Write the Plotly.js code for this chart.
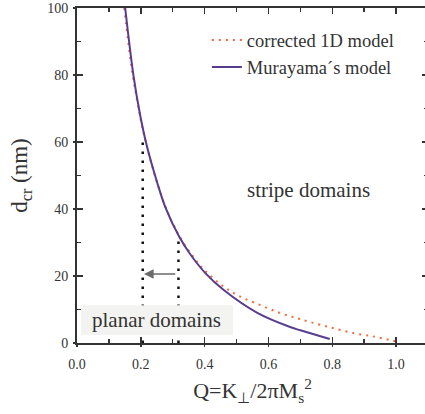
<!DOCTYPE html>
<html>
<head>
<meta charset="utf-8">
<script src="https://cdn.plot.ly/plotly-3.0.1.min.js"></script>
<style>html,body{margin:0;padding:0;overflow:hidden;background:#fff}</style>
</head>
<body>
<div id="chart"></div>
<script>
// Corrected 1D model (orange dotted)
const corrQ = [0.148, 0.173, 0.198, 0.218, 0.249, 0.280, 0.320, 0.360, 0.397, 0.460, 0.513, 0.575, 0.638, 0.690, 0.733, 0.796, 0.869, 0.932, 0.984, 1.000];
const corrD = [100, 81, 67.5, 59.0, 48.5, 40.0, 32.0, 26.3, 22.0, 16.8, 13.8, 11.3, 8.9, 7.4, 6.2, 4.6, 2.9, 1.9, 0.8, 0.5];
// Murayama's model (purple solid)
const murQ = [0.151, 0.177, 0.198, 0.219, 0.251, 0.277, 0.320, 0.355, 0.403, 0.460, 0.565, 0.670, 0.700, 0.792];
const murD = [100, 79.8, 68.0, 58.8, 48.0, 40.5, 31.8, 26.5, 20.8, 15.8, 9.0, 4.7, 3.8, 1.2];
// Boundary markers (vertical dotted lines)
const boundQ = [0.206, 0.318];
const boundTop = [61, 31];
// Arrow between boundaries
const arrowFromQ = 0.3125, arrowToQ = 0.21, arrowD = 20.6;
const seriesNames = ['corrected 1D model', 'Murayama\u00b4s model'];

const serif = '"Liberation Serif", "Times New Roman", Times, serif';

const traces = [];
boundQ.forEach((q, i) => {
  traces.push({
    x: [q, q], y: [0, boundTop[i]], mode: 'lines', showlegend: false, hoverinfo: 'skip',
    line: {color: '#111', width: 2.5, dash: '2.5px,6.5px'}
  });
});
traces.push({
  x: corrQ, y: corrD, mode: 'lines', name: seriesNames[0],
  line: {color: '#f26b3a', width: 2, dash: '2px,5px', shape: 'spline', smoothing: 1}
});
traces.push({
  x: murQ, y: murD, mode: 'lines', name: seriesNames[1],
  line: {color: '#5a3c8e', width: 2, shape: 'spline', smoothing: 1}
});
// empty trace to host the outer tick overlay axes
traces.push({x: [], y: [], xaxis: 'x2', yaxis: 'y2', showlegend: false, hoverinfo: 'skip', mode: 'lines'});

const axisCommon = {
  showline: true, linecolor: '#333', linewidth: 2,
  ticks: 'inside', tickcolor: '#333', tickwidth: 1.5, ticklen: 6,
  mirror: 'ticks', showgrid: false, zeroline: false,
  tickfont: {family: serif, size: 14, color: '#333'}
};
const outerTicks = {
  showline: false, ticks: 'outside', ticklen: 3, tickcolor: '#333', tickwidth: 1.5,
  showticklabels: false, showgrid: false, zeroline: false
};

const layout = {
  width: 428, height: 414,
  margin: {l: 77, r: 0, t: 8, b: 71},
  paper_bgcolor: '#fff', plot_bgcolor: '#fff',
  font: {family: serif, color: '#333'},
  showlegend: true,
  legend: {x: 0.37, xanchor: 'left', y: 0.96, yanchor: 'top', bgcolor: 'rgba(0,0,0,0)',
           font: {family: serif, size: 18.5, color: '#333'}, tracegroupgap: 0},
  xaxis: Object.assign({}, axisCommon, {
    range: [0, 1.1], dtick: 0.2, tick0: 0, tickformat: '.1f', ticklabelstandoff: 7,
    minor: {dtick: 0.1, ticks: 'inside', ticklen: 4, tickcolor: '#333', tickwidth: 1.5},
    title: {text: 'Q=K<sub>\u22a5</sub>/2\u03c0M<sub>s</sub><sup>2</sup>', font: {family: serif, size: 22, color: '#333'}, standoff: 12}
  }),
  yaxis: Object.assign({}, axisCommon, {
    range: [0, 100], dtick: 20, tick0: 0, ticklabelstandoff: 4,
    minor: {dtick: 10, ticks: 'inside', ticklen: 4, tickcolor: '#333', tickwidth: 1.5},
    title: {text: 'd<sub>cr</sub> (nm)', font: {family: serif, size: 23, color: '#333'}, standoff: 13}
  }),
  xaxis2: Object.assign({}, outerTicks, {overlaying: 'x', anchor: 'y2', side: 'bottom', range: [0, 1.1], dtick: 0.2, tick0: 0}),
  yaxis2: Object.assign({}, outerTicks, {overlaying: 'y', anchor: 'x2', side: 'left', range: [0, 100], dtick: 20, tick0: 0}),
  shapes: [{
    type: 'rect', xref: 'x', yref: 'y', x0: 0.0125, x1: 0.489, y0: 2.4, y1: 11.3,
    fillcolor: '#f3f3f1', line: {width: 0}, layer: 'above'
  }],
  annotations: [
    {x: 0.724, y: 45.7, xref: 'x', yref: 'y', text: 'stripe domains', showarrow: false,
     font: {family: serif, size: 21, color: '#333'}},
    {x: 0.25, y: 6.9, xref: 'x', yref: 'y', text: 'planar domains', showarrow: false,
     font: {family: serif, size: 21, color: '#333'}},
    {x: arrowToQ, y: arrowD, ax: arrowFromQ, ay: arrowD, xref: 'x', yref: 'y', axref: 'x', ayref: 'y',
     text: '', showarrow: true, arrowhead: 2, arrowsize: 1.2, arrowwidth: 1.6, arrowcolor: '#6a6a6a'}
  ]
};

Plotly.newPlot('chart', traces, layout, {displayModeBar: false, staticPlot: true});
</script>
</body>
</html>
